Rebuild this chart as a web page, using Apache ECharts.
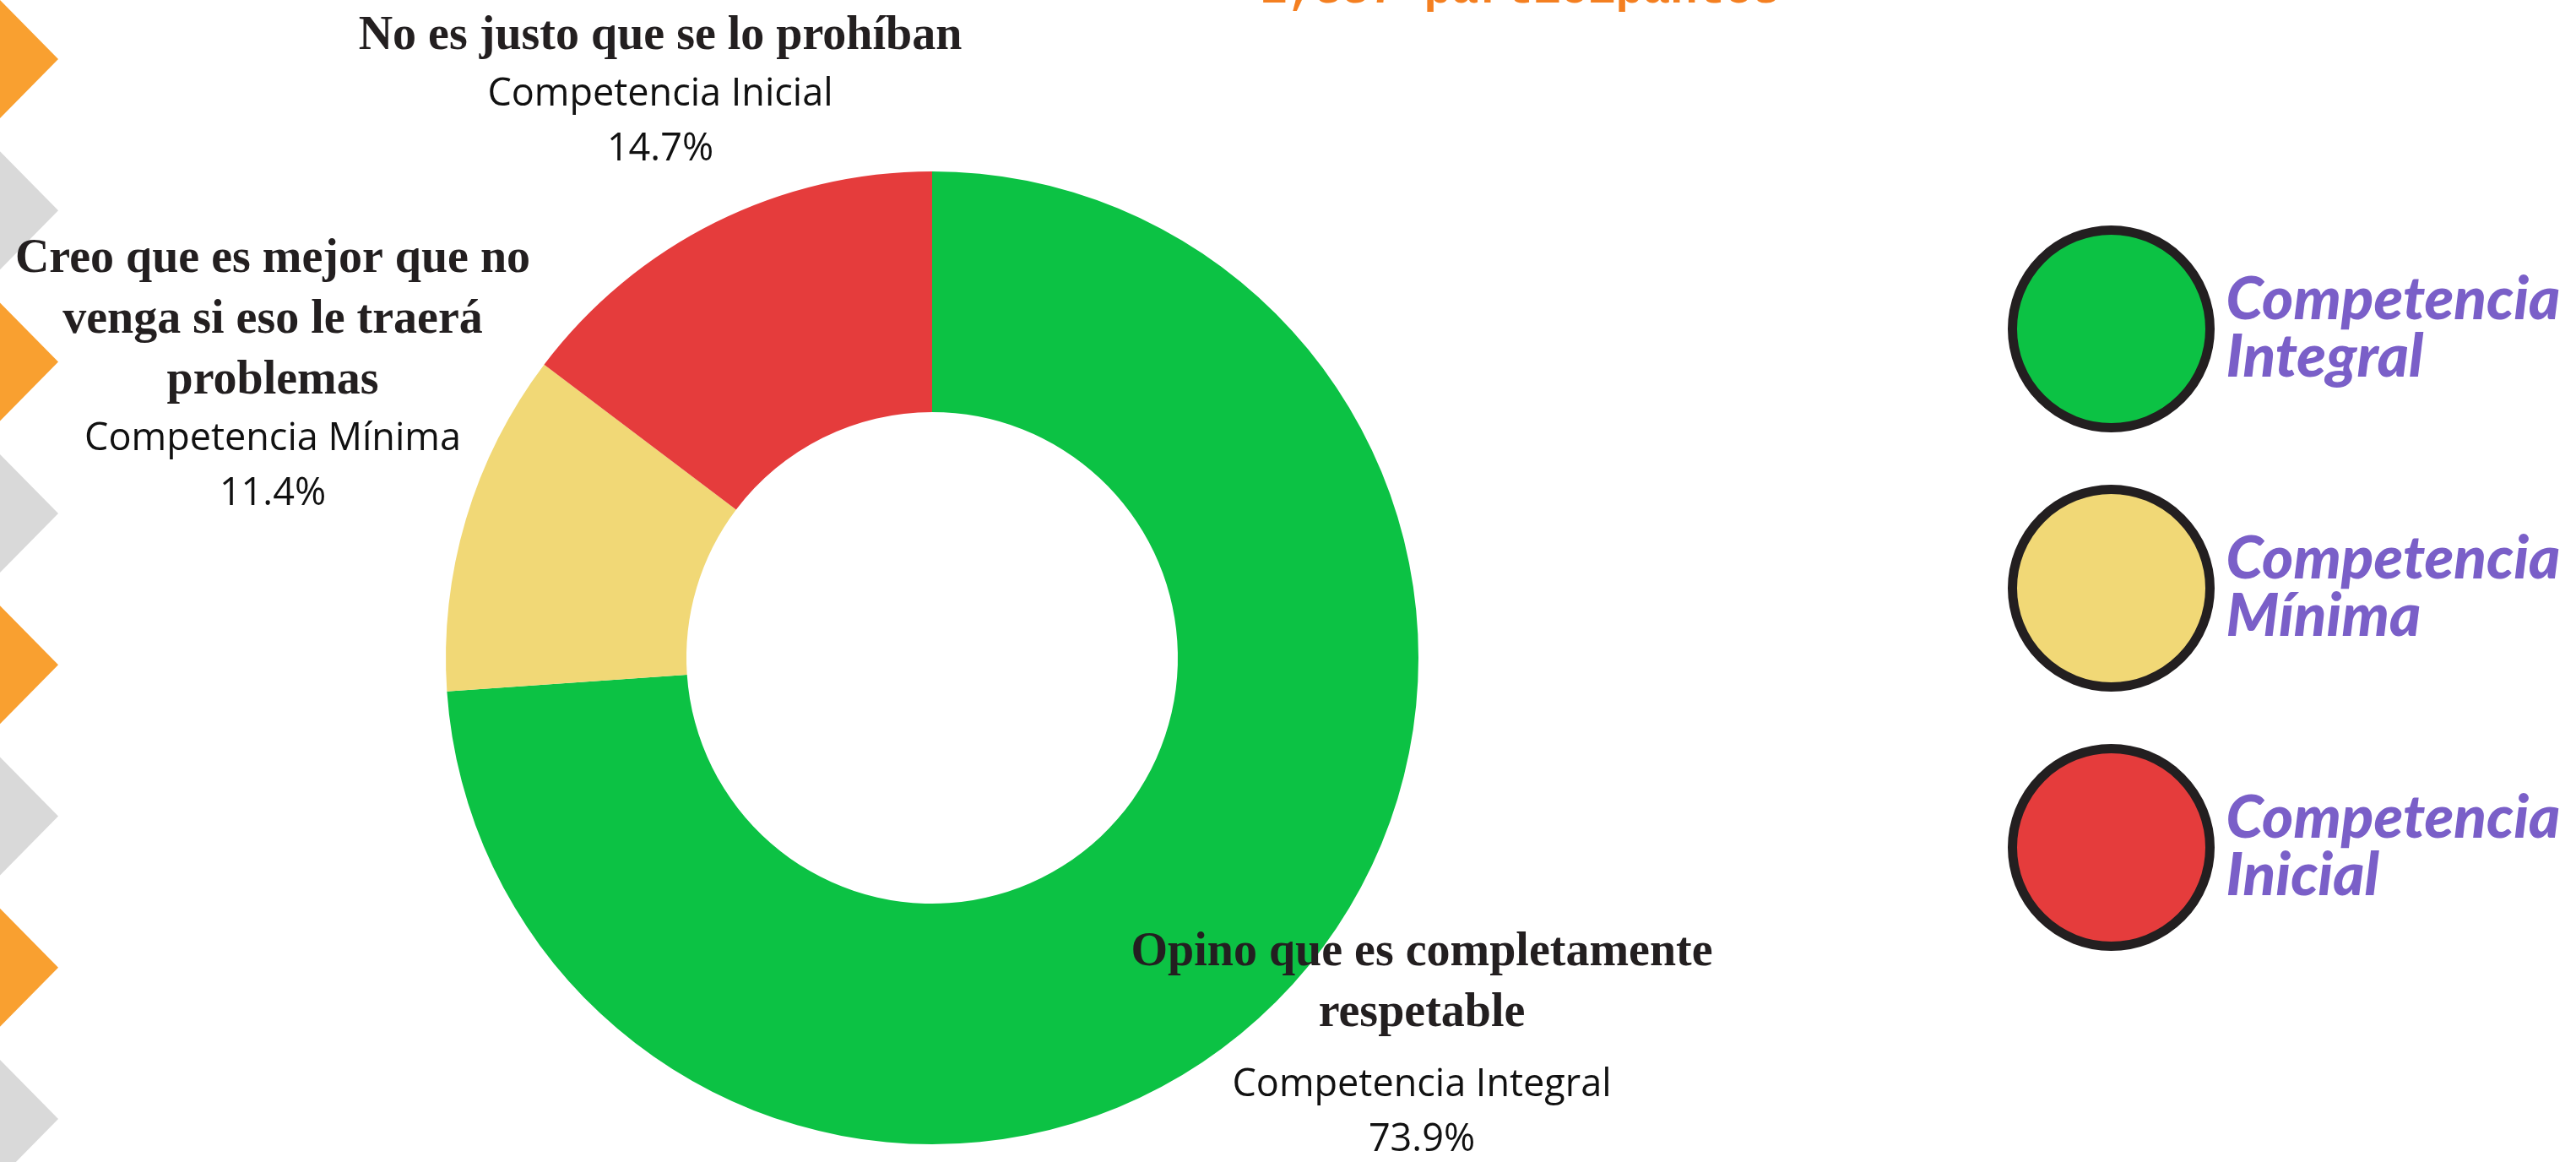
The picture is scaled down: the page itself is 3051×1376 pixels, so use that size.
<!DOCTYPE html>
<html>
<head>
<meta charset="utf-8">
<script src="https://cdn.jsdelivr.net/npm/echarts@6/dist/echarts.min.js"></script>
<style>
html,body{margin:0;padding:0;background:#fff;}
#chart{width:3051px;height:1376px;}
</style>
</head>
<body>
<div id="chart"></div>
<script>
// ---- data ----
const categories = ['Competencia Integral', 'Competencia Mínima', 'Competencia Inicial'];
const answers = [
  'Opino que es completamente\nrespetable',
  'Creo que es mejor que no\nvenga si eso le traerá\nproblemas',
  'No es justo que se lo prohíban'
];
const percents = [73.9, 11.4, 14.7];
const colors = ['#0cc244', '#f1d876', '#e53c3c'];
const topNote = '1,337 participantes';

// label anchor positions (label layout only)
const labelPos = [
  { x: 1684, y: 1093 },
  { x: 323, y: 272 },
  { x: 782, y: 8 }
];

const chart = echarts.init(document.getElementById('chart'), null, { renderer: 'canvas' });

// decorative chevrons on the left edge
const deco = [];
for (let i = 0; i < 8; i++) {
  const cy = 70 + i * 179.3;
  deco.push({
    type: 'polygon',
    silent: true,
    shape: { points: [[0, cy - 70], [69, cy], [0, cy + 70]] },
    style: { fill: i % 2 === 0 ? '#f9a030' : '#d9d9d9' }
  });
}
deco.push({
  type: 'text',
  silent: true,
  x: 1800, y: -11,
  style: {
    text: topNote,
    fill: '#f47f20',
    font: 'bold 54px "Liberation Mono", monospace',
    align: 'center',
    verticalAlign: 'middle'
  }
});

const option = {
  backgroundColor: '#ffffff',
  animation: false,
  color: colors,
  graphic: deco,
  legend: {
    orient: 'vertical',
    left: 2373,
    top: 262,
    itemWidth: 234,
    itemHeight: 234,
    itemGap: 62,
    icon: 'circle',
    selectedMode: false,
    data: categories,
    itemStyle: { borderColor: '#231f20', borderWidth: 11 },
    formatter: (name) => name.replace(' ', '\n'),
    textStyle: {
      color: '#7a5fc8',
      fontFamily: 'Lato',
      fontWeight: 900,
      fontStyle: 'italic',
      fontSize: 71,
      lineHeight: 68,
      padding: [0, 0, 0, 14]
    }
  },
  series: [{
    type: 'pie',
    center: [1104, 779],
    radius: [291, 576],
    startAngle: 90,
    clockwise: true,
    avoidLabelOverlap: false,
    emphasis: { scale: false },
    labelLine: { show: false },
    label: {
      show: true,
      position: 'outside',
      formatter: (p) => {
        const t = answers[p.dataIndex].split('\n').map(s => '{t|' + s + '}').join('\n');
        const gap = p.dataIndex === 0 ? '\n{g| }' : '';
        return t + gap + '\n{s|' + p.name + '}\n{s|' + percents[p.dataIndex].toFixed(1) + '%}';
      },
      rich: {
        t: {
          fontFamily: '"Liberation Serif", serif',
          fontWeight: 'bold',
          fontSize: 56,
          lineHeight: 72,
          color: '#231f20',
          align: 'center'
        },
        g: {
          fontSize: 2,
          lineHeight: 16
        },
        s: {
          fontFamily: '"Open Sans"',
          fontSize: 45,
          lineHeight: 65,
          color: '#111',
          align: 'center'
        }
      }
    },
    labelLayout: (params) => {
      const pos = labelPos[params.dataIndex];
      return { x: pos.x, y: pos.y, align: 'center', verticalAlign: 'top' };
    },
    data: categories.map((c, i) => ({ name: c, value: percents[i] }))
  }]
};
chart.setOption(option);
</script>
</body>
</html>
